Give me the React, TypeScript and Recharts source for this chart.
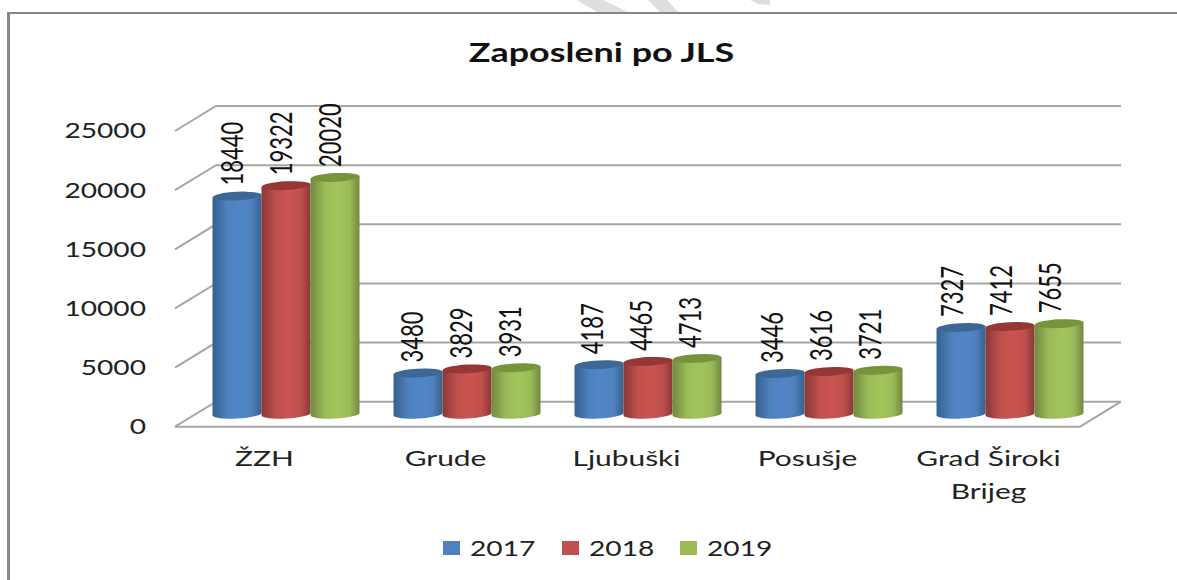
import * as React from 'react';
import { BarChart, Bar, XAxis, YAxis, CartesianGrid, LabelList, Legend } from 'recharts';

const categories = ['ŽZH', 'Grude', 'Ljubuški', 'Posušje', 'Grad Široki Brijeg'];
const values2017 = [18440, 3480, 4187, 3446, 7327];
const values2018 = [19322, 3829, 4465, 3616, 7412];
const values2019 = [20020, 3931, 4713, 3721, 7655];
const yTicks = [0, 5000, 10000, 15000, 20000, 25000];
const seriesNames = ['2017', '2018', '2019'];
const seriesColors = ['#4f81bd', '#c0504d', '#9bbb59'];
const seriesEdges = ['#36618f', '#8a3836', '#71893f'];
const seriesTops = ['#3c6796', '#953735', '#77933c'];
const seriesCentres = ['#5086c8', '#cb5450', '#a2c45c'];

const data = categories.map((name, i) => ({
  name,
  s2017: values2017[i],
  s2018: values2018[i],
  s2019: values2019[i],
}));

const FONT = 'Lato, sans-serif';
const TEXT = '#222';
const GRID = '#a6a6a6';

// fake 3d: the wall sits behind the front plane, bars stand between them
const DEPTH_X = 41;
const DEPTH_Y = 25;
const BAR_DX = 20.5;
const BAR_DY = 12.5;

function Cylinder(props: any) {
  const { x, y, width, height, index } = props;
  const s = props.seriesIndex;
  const left = x + BAR_DX;
  const top = y + BAR_DY;
  const bottom = y + height + BAR_DY;
  const t = 1.3;
  const rx = width / 2;
  const ry = 4.3;
  const body =
    `M${left},${top + t} L${left + width},${top - t} L${left + width},${bottom - t} ` +
    `A${rx},${ry} -3 0 1 ${left},${bottom + t} Z`;
  return (
    <g key={index}>
      <path d={body} fill={`url(#cyl${s})`} />
      <ellipse
        cx={left + rx}
        cy={top}
        rx={rx}
        ry={ry}
        fill={seriesTops[s]}
        transform={`rotate(-3 ${left + rx} ${top})`}
      />
    </g>
  );
}

function ValueLabel(props: any) {
  const { x, y, width, value, index } = props;
  // labels drift left of their bars going across the chart
  const cx = x + BAR_DX + width / 2 - 5 - index;
  const by = y + BAR_DY - 10.5;
  return (
    <text
      transform={`translate(${cx},${by}) rotate(-90) scale(1,1.36)`}
      fontFamily={FONT}
      fontSize={22}
      fill="#111"
      dy="0.36em"
    >
      {value}
    </text>
  );
}

function YTick(props: any) {
  const { y, payload } = props;
  return (
    <text
      transform={`translate(146,${y + DEPTH_Y - 0.5}) scale(1.28,1)`}
      fontFamily={FONT}
      fontSize={22}
      fill={TEXT}
      textAnchor="end"
      dy="0.36em"
    >
      {payload.value}
    </text>
  );
}

function XTick(props: any) {
  const { x, y, payload } = props;
  const words = String(payload.value).split(' ');
  const lines = words.length > 2 ? [words.slice(0, 2).join(' '), words.slice(2).join(' ')] : [words.join(' ')];
  return (
    <g transform={`translate(${x - 1},${y + 64}) scale(1.36,1)`}>
      {lines.map((line, i) => (
        <text key={line} y={i * 33} fontFamily={FONT} fontSize={22} fill={TEXT} textAnchor="middle">
          {line}
        </text>
      ))}
    </g>
  );
}

function gridLine(props: any) {
  const { x1, x2, y1, y, height, key } = props;
  const isFloor = Math.abs(y1 - (y + height)) < 1;
  return (
    <g key={key} fill="none" stroke={GRID} strokeWidth={2}>
      <polyline points={`${x1},${y1 + DEPTH_Y} ${x1 + DEPTH_X},${y1} ${x2 + DEPTH_X},${y1}`} />
      {isFloor && <polyline points={`${x1},${y1 + DEPTH_Y} ${x2},${y1 + DEPTH_Y} ${x2 + DEPTH_X},${y1}`} />}
    </g>
  );
}

function LegendRow() {
  const lefts = [443, 562, 680];
  return (
    <div style={{ position: 'relative', width: 1177, height: 30 }}>
      {seriesNames.map((name, i) => (
        <React.Fragment key={name}>
          <div style={{ position: 'absolute', left: lefts[i], top: 3, width: 17, height: 14, background: seriesColors[i] }} />
          <div
            style={{
              position: 'absolute',
              left: lefts[i] + 27,
              top: -4,
              fontFamily: FONT,
              fontSize: 22,
              lineHeight: '28px',
              color: TEXT,
              transform: 'scaleX(1.28)',
              transformOrigin: 'left center',
            }}
          >
            {name}
          </div>
        </React.Fragment>
      ))}
    </div>
  );
}

export default function App() {
  return (
    <div style={{ position: 'absolute', left: 0, top: 0, width: 1177, height: 580, overflow: 'hidden', background: '#fff' }}>
      {/* watermark scraps above the frame */}
      <svg width={1177} height={13} style={{ position: 'absolute', left: 0, top: 0 }}>
        <polygon points="577,0 603,0 628,12 597,12" fill="#dedede" />
        <polygon points="648,0 667,0 678,12 660,12" fill="#dedede" />
        <polygon points="750,0 770,0 770,5 758,4" fill="#dedede" />
      </svg>
      <div style={{ position: 'absolute', left: 7, top: 12, width: 1170, height: 1.5, background: '#868686' }} />
      <div style={{ position: 'absolute', left: 7, top: 12, width: 2.5, height: 568, background: '#868686' }} />
      <div
        style={{
          position: 'absolute',
          left: 0,
          width: 1177,
          top: 34,
          textAlign: 'center',
          fontFamily: FONT,
          fontWeight: 700,
          fontSize: 27,
          lineHeight: '36px',
          color: '#111',
          transform: 'translateX(13px) scaleX(1.33)',
        }}
      >
        Zaposleni po JLS
      </div>
      <BarChart
        width={1177}
        height={580}
        data={data}
        margin={{ top: 106, right: 97, bottom: 88.3, left: 75 }}
        barGap={0}
        barCategoryGap="9.4%"
        style={{ position: 'absolute', left: 0, top: 0 }}
      >
        <defs>
          {seriesNames.map((name, i) => (
            <linearGradient key={name} id={`cyl${i}`} x1="0" y1="0" x2="1" y2="0">
              <stop offset="0%" stopColor={seriesEdges[i]} />
              <stop offset="30%" stopColor={seriesColors[i]} />
              <stop offset="55%" stopColor={seriesCentres[i]} />
              <stop offset="80%" stopColor={seriesColors[i]} />
              <stop offset="100%" stopColor={seriesEdges[i]} />
            </linearGradient>
          ))}
        </defs>
        <CartesianGrid vertical={false} horizontal={gridLine} />
        <XAxis
          dataKey="name"
          height={60}
          axisLine={false}
          tickLine={false}
          tickSize={0}
          tickMargin={0}
          interval={0}
          tick={XTick}
        />
        <YAxis
          width={100}
          domain={[0, 25000]}
          ticks={yTicks}
          axisLine={false}
          tickLine={false}
          interval={0}
          tick={YTick}
        />
        <Legend
          content={LegendRow}
          wrapperStyle={{ position: 'absolute', left: 0, top: 538, width: 1177, height: 30, margin: 0 }}
        />
        <Bar dataKey="s2017" name="2017" fill={seriesColors[0]} isAnimationActive={false} shape={(p: any) => <Cylinder {...p} seriesIndex={0} />}>
          <LabelList dataKey="s2017" content={ValueLabel} />
        </Bar>
        <Bar dataKey="s2018" name="2018" fill={seriesColors[1]} isAnimationActive={false} shape={(p: any) => <Cylinder {...p} seriesIndex={1} />}>
          <LabelList dataKey="s2018" content={ValueLabel} />
        </Bar>
        <Bar dataKey="s2019" name="2019" fill={seriesColors[2]} isAnimationActive={false} shape={(p: any) => <Cylinder {...p} seriesIndex={2} />}>
          <LabelList dataKey="s2019" content={ValueLabel} />
        </Bar>
      </BarChart>
    </div>
  );
}
